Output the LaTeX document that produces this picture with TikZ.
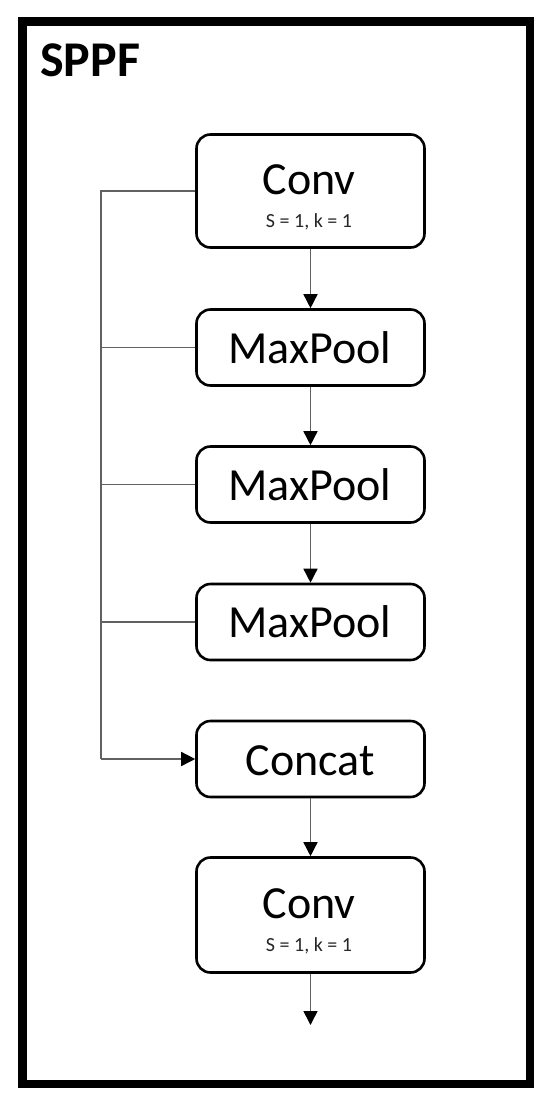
\documentclass[tikz,border=0pt]{standalone}
\usepackage{fontspec}
\setmainfont{Carlito}
\usetikzlibrary{arrows.meta}
\begin{document}
\begin{tikzpicture}[x=1pt,y=-1pt,
  stagebox/.style={draw=black, line width=2.6pt, rounded corners=14pt, minimum width=228pt, inner sep=0pt},
  conn/.style={draw=black!62, line width=1.5pt},
  arr/.style={conn, -{Triangle[width=14pt,length=14pt,color=black]}},
  bigtxt/.style={anchor=base, inner sep=0pt, font=\fontsize{46}{46}\selectfont},
  subtxt/.style={anchor=base, inner sep=0pt, text=black!85, font=\fontsize{20}{20}\selectfont},
]
\useasboundingbox (0,0) rectangle (550,1106);
\fill[white] (0,0) rectangle (550,1106);
\draw[line width=8.5pt] (22.5,21.5) rectangle (530,1084);
\node[anchor=base west, inner sep=0pt, font=\fontsize{50}{50}\selectfont\bfseries] (title) at (40,76) {SPPF};

\node[stagebox, minimum height=113pt] (conv1) at (310.5,191) {};
\node[bigtxt] (conv1t) at (309,194) {Conv};
\node[subtxt] (conv1s) at (309,227) {S = 1, k = 1};

\node[stagebox, minimum height=76pt] (mp1) at (310.5,347.5) {};
\node[bigtxt] (mp1t) at (310,363) {MaxPool};
\node[stagebox, minimum height=76pt] (mp2) at (310.5,484.5) {};
\node[bigtxt] (mp2t) at (310,500) {MaxPool};
\node[stagebox, minimum height=76pt] (mp3) at (310.5,622) {};
\node[bigtxt] (mp3t) at (310,637.5) {MaxPool};
\node[stagebox, minimum height=76pt] (cat) at (310.5,759) {};
\node[bigtxt] (catt) at (310,775) {Concat};

\node[stagebox, minimum height=115pt] (conv2) at (310.5,915) {};
\node[bigtxt] (conv2t) at (309,918) {Conv};
\node[subtxt] (conv2s) at (309,951) {S = 1, k = 1};

\coordinate (bus) at (101,0);
\coordinate (out) at (310.5,1025);

\draw[arr] (conv1.south) -- (mp1.north);
\draw[arr] (mp1.south) -- (mp2.north);
\draw[arr] (mp2.south) -- (mp3.north);
\draw[arr] (cat.south) -- (conv2.north);
\draw[arr] (conv2.south) -- (out);

\draw[conn] (conv1.west) -- (conv1.west -| bus) -- (cat.west -| bus);
\draw[conn] (mp1.west) -- (mp1.west -| bus);
\draw[conn] (mp2.west) -- (mp2.west -| bus);
\draw[conn] (mp3.west) -- (mp3.west -| bus);
\draw[arr] (cat.west -| bus) -- (cat.west);
\end{tikzpicture}
\end{document}
